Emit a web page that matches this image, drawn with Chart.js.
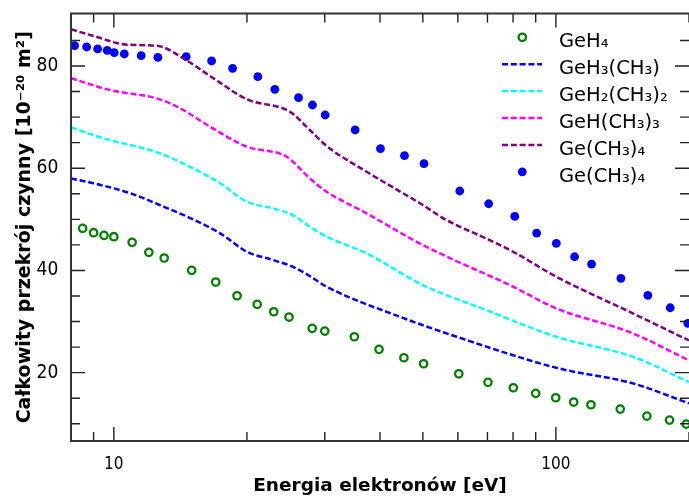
<!DOCTYPE html>
<html><head><meta charset="utf-8">
<script src="https://cdn.jsdelivr.net/npm/chart.js@4.4.1/dist/chart.umd.min.js"></script>
<style>html,body{margin:0;padding:0;background:#fff;}canvas{display:block;}</style>
</head><body>
<canvas id="c" width="689" height="498"></canvas>
<script>
// ---- data ----
const seriesLabels = ['GeH₄', 'GeH₃(CH₃)', 'GeH₂(CH₃)₂', 'GeH(CH₃)₃', 'Ge(CH₃)₄', 'Ge(CH₃)₄'];

const geh4Energy = [8.5, 9.0, 9.5, 10, 11, 12, 13, 15, 17, 19, 21.1, 23, 24.9, 28.1, 30, 35, 39.8, 45.3, 50.2, 60.3, 70.2, 80.1, 90, 99.9, 109.7, 120, 139.8, 160.6, 180.7, 197.2];
const geh4Value  = [48.24, 47.38, 46.87, 46.6, 45.5, 43.54, 42.43, 40.02, 37.73, 35.05, 33.37, 31.92, 30.88, 28.67, 28.14, 27.03, 24.56, 22.92, 21.74, 19.78, 18.1, 17.05, 15.95, 15.09, 14.25, 13.72, 12.88, 11.51, 10.72, 9.94];

const geh3Energy = [8.0, 9.0, 10.9, 12.7, 15.1, 17.4, 20.0, 22.9, 25.4, 27.75, 30.3, 44.35, 59.6, 100.2, 149.3, 200];
const geh3Value  = [58.0, 57.05, 55.1, 52.8, 50.0, 47.26, 43.66, 42.04, 40.72, 38.9, 36.81, 30.94, 27.03, 20.96, 17.9, 14.0];

const geh2Energy = [8.0, 9.47, 12.7, 15.1, 17.4, 20.0, 22.9, 25.4, 27.75, 30.3, 37.3, 50.0, 69.6, 100.2, 149.3, 200];
const geh2Value  = [68.0, 65.85, 62.92, 59.98, 57.05, 53.44, 52.15, 50.84, 48.55, 46.59, 43.35, 37.14, 32.25, 27.03, 23.11, 18.15];

const gehEnergy = [8.0, 9.8, 12.7, 14.35, 16.5, 20.0, 24.6, 27.75, 30.3, 37.3, 50.0, 80.0, 100.2, 149.3, 200];
const gehValue  = [77.6, 75.3, 73.48, 71.39, 68.12, 64.21, 62.25, 58.02, 55.4, 51.17, 44.97, 36.81, 32.58, 27.69, 22.4];

const ge4Energy = [8.0, 9.0, 10.7, 12.6, 14.35, 16.8, 20.0, 25.0, 27.75, 30.3, 37.3, 50.0, 56.5, 70.8, 80.0, 100.2, 149.3, 200];
const ge4Value  = [87.18, 85.87, 84.17, 83.91, 81.51, 77.59, 73.48, 71.06, 67.48, 64.34, 59.31, 52.8, 49.86, 45.95, 43.66, 38.77, 31.6, 26.3];

const ge4ExpEnergy = [8.15, 8.68, 9.19, 9.66, 10.02, 10.56, 11.53, 12.58, 14.58, 16.64, 18.56, 21.17, 23.13, 26.17, 28.14, 30.06, 35.14, 40.1, 45.44, 50.3, 60.6, 70.45, 80.7, 90.45, 100.2, 110.2, 120.4, 140.3, 161.4, 181.4, 198.8];
const ge4ExpValue  = [83.97, 83.72, 83.33, 83.07, 82.6, 82.35, 82.02, 81.7, 81.82, 80.98, 79.55, 77.91, 75.44, 73.8, 72.37, 70.41, 67.48, 63.82, 62.45, 60.88, 55.54, 53.05, 50.59, 47.32, 45.3, 42.68, 41.25, 38.45, 35.13, 32.7, 29.65];

const xTickValues = [9, 10, 20, 30, 40, 50, 60, 70, 80, 90, 100, 200];
const xTickLabels = [10, 100];
const yTickValues = [10, 15, 20, 25, 30, 35, 40, 45, 50, 55, 60, 65, 70, 75, 80, 85];
const yTickLabels = [20, 40, 60, 80];

const xTitle = 'Energia elektronów [eV]';
const yTitle = 'Całkowity przekrój czynny [10⁻²⁰ m²]';

// ---- chart ----
const pts = (xs, ys) => xs.map((x, i) => ({x: x, y: ys[i]}));
const DASH = [6, 2.8];
const lineDs = (label, xs, ys, color) => ({
  label, data: pts(xs, ys), borderColor: color, backgroundColor: color,
  borderWidth: 2.5, borderDash: DASH, pointRadius: 0, showLine: true,
  cubicInterpolationMode: 'monotone', fill: false
});
const noPad = s => { s.paddingTop = 0; s.paddingBottom = 0; s.paddingLeft = 0; s.paddingRight = 0; };

const framePlugin = {
  id: 'frame',
  afterDatasetsDraw(chart) {
    const {ctx, chartArea: a, scales: {x, y}} = chart;
    ctx.save();
    ctx.strokeStyle = '#222';
    ctx.lineWidth = 1.4;
    ctx.beginPath();
    for (const v of yTickValues) {
      const py = y.getPixelForValue(v);
      const len = yTickLabels.includes(v) ? 14 : 9;
      ctx.moveTo(a.left, py); ctx.lineTo(a.left + len, py);
      ctx.moveTo(a.right, py); ctx.lineTo(a.right - len, py);
    }
    for (const v of xTickValues) {
      const px = x.getPixelForValue(v);
      const len = xTickLabels.includes(v) ? 14 : 9;
      ctx.moveTo(px, a.bottom); ctx.lineTo(px, a.bottom - len);
      ctx.moveTo(px, a.top); ctx.lineTo(px, a.top + len);
    }
    ctx.stroke();
    ctx.lineWidth = 2;
    ctx.strokeStyle = '#333';
    ctx.beginPath();
    ctx.moveTo(a.right + 2, a.top); ctx.lineTo(a.left, a.top);
    ctx.lineTo(a.left, a.bottom); ctx.lineTo(a.right + 2, a.bottom);
    ctx.stroke();
    ctx.restore();
  }
};

const legendPlugin = {
  id: 'innerLegend',
  afterDraw(chart) {
    const ctx = chart.ctx;
    ctx.save();
    chart.data.datasets.forEach((ds, i) => {
      const cy = 37.3 + 26.9 * i;
      if (ds.showLine === false) {
        ctx.beginPath();
        ctx.arc(522.3, cy, ds.pointRadius, 0, Math.PI * 2);
        if (ds.pointBackgroundColor && ds.pointBackgroundColor !== 'rgba(0,0,0,0)') {
          ctx.fillStyle = ds.pointBackgroundColor; ctx.fill();
        }
        if (ds.pointBorderWidth) {
          ctx.lineWidth = ds.pointBorderWidth; ctx.strokeStyle = ds.pointBorderColor; ctx.stroke();
        }
      } else {
        ctx.setLineDash(ds.borderDash);
        ctx.lineWidth = ds.borderWidth;
        ctx.strokeStyle = ds.borderColor;
        ctx.beginPath(); ctx.moveTo(502, cy); ctx.lineTo(542, cy); ctx.stroke();
        ctx.setLineDash([]);
      }
      ctx.fillStyle = '#000';
      ctx.font = '19.5px "DejaVu Sans"';
      ctx.textBaseline = 'alphabetic';
      ctx.textAlign = 'left';
      ctx.fillText(ds.label, 559, cy + 10);
    });
    ctx.restore();
  }
};

new Chart(document.getElementById('c'), {
  type: 'scatter',
  data: {
    datasets: [
      {label: seriesLabels[0], data: pts(geh4Energy, geh4Value), showLine: false,
       pointRadius: 3.7, pointBorderWidth: 2.3, pointBorderColor: '#008000',
       pointBackgroundColor: 'rgba(0,0,0,0)', borderColor: '#008000'},
      lineDs(seriesLabels[1], geh3Energy, geh3Value, '#0000ff'),
      lineDs(seriesLabels[2], geh2Energy, geh2Value, '#00ffff'),
      lineDs(seriesLabels[3], gehEnergy, gehValue, '#ff00ff'),
      lineDs(seriesLabels[4], ge4Energy, ge4Value, '#800080'),
      {label: seriesLabels[5], data: pts(ge4ExpEnergy, ge4ExpValue), showLine: false,
       pointRadius: 4.4, pointBorderWidth: 0, pointBorderColor: '#0000ff',
       pointBackgroundColor: '#0000ff', borderColor: '#0000ff'}
    ]
  },
  options: {
    responsive: false,
    animation: false,
    devicePixelRatio: 1,
    layout: {autoPadding: false, padding: {top: 13.5, right: 0, left: 0, bottom: 0}},
    plugins: {legend: {display: false}, tooltip: {enabled: false}},
    scales: {
      x: {
        type: 'logarithmic', min: 8, max: 200,
        grid: {display: false, drawTicks: false},
        border: {display: false},
        afterBuildTicks: s => { s.ticks = xTickValues.map(v => ({value: v})); },
        afterFit: s => { s.height = 57; noPad(s); },
        ticks: {
          autoSkip: false, maxRotation: 0, padding: 13.6, color: '#000',
          font: {family: '"DejaVu Sans Condensed", "DejaVu Sans"', size: 17},
          callback: v => xTickLabels.includes(v) ? String(v) : ''
        },
        title: {display: true, text: xTitle, color: '#000',
          font: {family: '"DejaVu Sans"', size: 18.5, weight: 'bold'},
          padding: {top: 0, bottom: 0.7}}
      },
      y: {
        min: 6.63, max: 90.27,
        grid: {display: false, drawTicks: false},
        border: {display: false},
        afterBuildTicks: s => { s.ticks = yTickValues.map(v => ({value: v})); },
        afterFit: s => { s.width = 71; noPad(s); },
        ticks: {
          autoSkip: false, padding: 12.7, color: '#000',
          font: {family: '"DejaVu Sans Condensed", "DejaVu Sans"', size: 19},
          callback: v => yTickLabels.includes(v) ? String(v) : ''
        },
        title: {display: true, text: yTitle, color: '#000',
          font: {family: '"DejaVu Sans"', size: 19, weight: 'bold'},
          padding: {top: 14, bottom: 0}}
      }
    }
  },
  plugins: [framePlugin, legendPlugin]
});
</script>
</body></html>
